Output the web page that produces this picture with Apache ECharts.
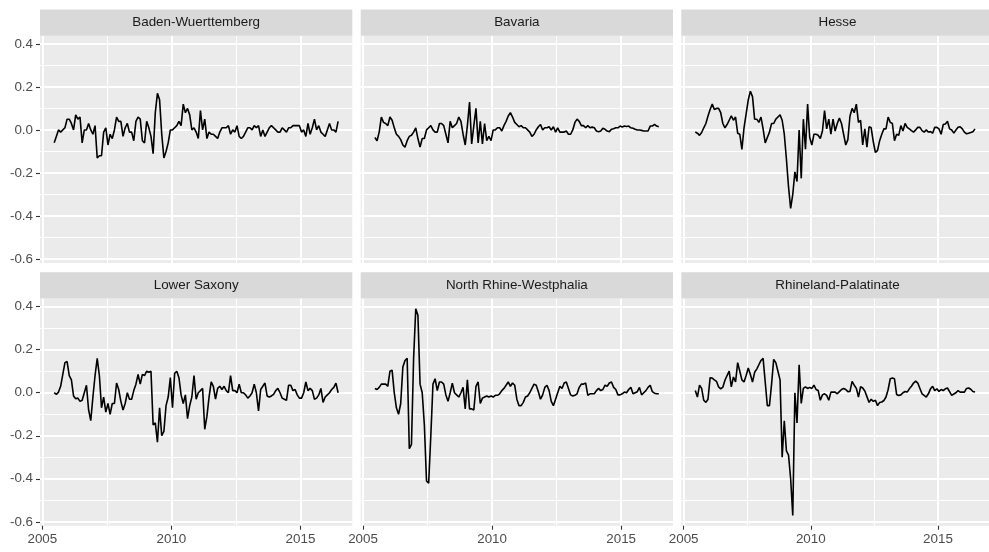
<!DOCTYPE html>
<html>
<head>
<meta charset="utf-8">
<script src="https://cdn.jsdelivr.net/npm/echarts@6/dist/echarts.min.js"></script>
<style>
html,body{margin:0;padding:0;background:#ffffff;}
#chart{width:989px;height:552px;}
</style>
</head>
<body>
<div id="chart"></div>
<script>
// ---- data ----
const panelNames = ["Baden-Wuerttemberg", "Bavaria", "Hesse", "Lower Saxony", "North Rhine-Westphalia", "Rhineland-Palatinate"];
const startYear = 2005;
const startMonth = 6; // first monthly observation: June 2005

const badenWuerttemberg = [
  -0.06, -0.03, 0.0, -0.01, 0.0, 0.01, 0.05, 0.05, 0.03, 0.0,
  0.07, 0.05, 0.06, -0.06, 0.0, 0.0, 0.03, 0.0, -0.02, 0.02,
  -0.13, -0.12, -0.12, -0.01, 0.01, -0.07, -0.02, -0.04, 0.0, 0.06,
  0.04, 0.04, -0.03, 0.01, 0.03, -0.01, -0.01, -0.05, 0.04, 0.06,
  0.05, -0.05, -0.06, 0.04, 0.01, -0.03, -0.11, 0.08, 0.17, 0.14,
  -0.02, -0.13, -0.10, -0.06, 0.0, 0.0, 0.01, 0.02, 0.04, 0.02,
  0.12, 0.08, 0.10, 0.07, 0.0, 0.01, -0.01, -0.04, 0.09, 0.0,
  0.05, -0.04, -0.01, -0.02, -0.02, -0.03, -0.04, -0.01, 0.01, 0.01,
  0.01, 0.02, -0.02, 0.0, -0.01, 0.02, -0.03, -0.04, -0.03, -0.01,
  0.01, 0.01, 0.0, 0.02, 0.01, 0.02, -0.03, 0.0, -0.03, -0.01,
  0.01, 0.02, 0.01, 0.0, -0.01, -0.01, 0.01, 0.0, -0.01, 0.01,
  0.01, 0.02, 0.02, 0.02, 0.02, -0.01, 0.0, -0.03, 0.03, -0.02,
  0.01, 0.05, 0.0, 0.02, -0.01, -0.02, -0.03, 0.0, 0.03, 0.0,
  0.0, -0.01, 0.04
];
const bavaria = [
  -0.035, -0.05, -0.01, 0.06, 0.035, 0.03, 0.02, 0.06, 0.045, 0.01,
  -0.02, -0.03, -0.045, -0.07, -0.08, -0.05, -0.03, -0.025, -0.01, 0.01,
  -0.04, -0.08, -0.04, -0.04, 0.0, 0.01, 0.02, 0.0, -0.01, -0.01,
  0.03, 0.03, 0.02, -0.02, -0.06, 0.04, 0.01, 0.02, 0.03, 0.06,
  0.04, -0.02, -0.07, 0.02, 0.13, -0.065, 0.02, 0.10, -0.06, 0.04,
  -0.065, 0.03, -0.05, -0.03, -0.05, 0.0, 0.0, 0.01, 0.01, -0.005,
  0.02, 0.04, 0.065, 0.08, 0.06, 0.035, 0.025, 0.015, 0.02, 0.01,
  0.01, 0.0, -0.01, -0.03, -0.02, 0.0, 0.015, 0.025, 0.0, 0.01,
  0.01, 0.015, 0.0, 0.015, -0.01, 0.01, -0.01, -0.01, -0.01, -0.005,
  -0.02, -0.02, 0.0, 0.035, 0.05, 0.04, 0.02, 0.02, 0.01, 0.02,
  0.01, 0.013, 0.01, -0.005, -0.008, -0.005, 0.008, 0.003, -0.005, -0.008,
  0.003, 0.006, 0.01, 0.01, 0.018, 0.014, 0.018, 0.016, 0.018, 0.01,
  0.008, 0.003, 0.0, 0.0, -0.002, -0.005, -0.005, -0.005, 0.018, 0.018,
  0.026, 0.018, 0.015
];
const hesse = [
  -0.01, -0.015, -0.025, -0.012, 0.01, 0.03, 0.065, 0.095, 0.12, 0.095,
  0.10, 0.10, 0.08, 0.03, 0.01, 0.025, 0.045, 0.065, 0.045, 0.06,
  -0.015, -0.02, -0.09, 0.01, 0.075, 0.14, 0.18, 0.155, 0.05, 0.05,
  0.035, 0.06, 0.005, -0.06, -0.035, -0.01, 0.03, 0.03, 0.05, 0.06,
  0.07, 0.045, -0.02, -0.135, -0.265, -0.365, -0.30, -0.195, -0.24, 0.0,
  -0.225, 0.05, -0.09, 0.12, -0.035, -0.07, -0.02, -0.02, -0.025, -0.04,
  -0.005, 0.09, 0.005, 0.05, -0.02, 0.05, -0.005, 0.03, 0.055, 0.03,
  -0.02, -0.07, -0.045, 0.065, 0.10, 0.08, 0.12, 0.035, 0.045, -0.07,
  0.005, -0.08, 0.015, 0.01, -0.055, -0.105, -0.095, -0.05, -0.02, 0.005,
  0.005, 0.06, 0.035, 0.03, -0.05, -0.02, -0.025, 0.02, -0.005, 0.03,
  0.012, 0.005, -0.003, -0.01, 0.0, 0.012, 0.012, -0.003, -0.01, 0.0,
  -0.01, -0.008, -0.015, 0.012, 0.012, 0.005, -0.02, 0.025, 0.028, 0.04,
  0.005, 0.0, -0.015, 0.0, 0.012, 0.015, 0.005, -0.01, -0.018, -0.015,
  -0.012, -0.008, 0.005
];
const lowerSaxony = [
  0.0, -0.008, 0.003, 0.03, 0.085, 0.14, 0.145, 0.08, 0.06, -0.015,
  -0.028, -0.025, -0.04, -0.035, 0.0, 0.035, -0.08, -0.13, -0.02, 0.08,
  0.16, 0.08, -0.07, -0.02, -0.09, -0.05, -0.1, -0.05, -0.05, 0.045,
  0.015, -0.04, -0.08, -0.05, 0.0, -0.03, -0.03, 0.01, 0.04, 0.085,
  0.04, 0.085, 0.08, 0.1, 0.095, 0.1, -0.15, -0.14, -0.23, -0.07,
  -0.2, -0.18, -0.06, -0.02, 0.07, -0.07, 0.09, 0.1, 0.07, -0.01,
  -0.05, -0.01, -0.12, -0.06, -0.02, 0.08, -0.03, 0.0, 0.01, 0.02,
  -0.17, -0.11, -0.02, 0.05, 0.03, -0.03, 0.02, 0.03, 0.015, 0.03,
  0.01, 0.0, 0.08, 0.01, 0.01, 0.0, 0.04, 0.0, 0.0, -0.01,
  -0.025, -0.015, 0.0, 0.04, 0.0, -0.085, 0.015, 0.03, 0.045, -0.015,
  -0.02, -0.015, -0.008, 0.01, 0.02, 0.0, -0.025, -0.03, -0.035, 0.035,
  0.035, 0.01, 0.015, -0.01, -0.025, -0.025, 0.0, 0.05, 0.01, 0.02,
  0.01, -0.03, -0.025, -0.01, 0.02, -0.045, -0.02, -0.01, 0.0, 0.015,
  0.025, 0.045, 0.0
];
const northRhineWestphalia = [
  0.02, 0.015, 0.025, 0.04, 0.04, 0.04, 0.03, 0.1, 0.105, 0.0,
  -0.07, -0.1, -0.05, 0.12, 0.15, 0.16, -0.26, -0.24, 0.16, 0.39,
  0.36, 0.04, 0.0, -0.15, -0.41, -0.42, -0.2, 0.04, 0.065, 0.01,
  0.05, 0.05, 0.04, -0.01, -0.04, 0.0, 0.045, 0.0, -0.01, -0.02,
  0.0, 0.025, -0.075, 0.06, -0.075, -0.075, -0.08, 0.03, 0.05, -0.05,
  -0.025, -0.02, -0.015, -0.02, -0.015, -0.02, -0.012, -0.012, -0.005, 0.01,
  0.02, 0.035, 0.05, 0.03, 0.045, 0.035, -0.03, -0.06, -0.06, -0.045,
  -0.02, -0.015, 0.0, 0.02, 0.04, 0.035, 0.005, -0.03, -0.01, 0.025,
  0.035, 0.01, -0.04, -0.06, -0.03, 0.0, 0.03, 0.02, 0.045, 0.05,
  0.02, -0.01, -0.015, -0.012, -0.005, 0.025, 0.04, 0.04, 0.045, -0.012,
  -0.005, -0.005, -0.005, 0.01, 0.02, 0.01, 0.015, 0.035, 0.03, 0.045,
  0.05, 0.025, 0.015, -0.01, -0.01, -0.005, 0.003, 0.0, 0.015, 0.025,
  -0.005, 0.0, 0.005, 0.025, -0.01, 0.0, 0.01, 0.025, 0.035, 0.005,
  -0.002, -0.005, -0.005
];
const rhinelandPalatinate = [
  0.01, -0.02, 0.035, 0.02, -0.035, -0.045, -0.03, 0.07, 0.068, 0.06,
  0.053, 0.027, 0.018, 0.026, 0.058, 0.08, 0.1, 0.027, 0.073, 0.05,
  0.14, 0.1, 0.06, 0.05, 0.08, 0.115, 0.085, 0.05, 0.095, 0.11,
  0.13, 0.15, 0.16, 0.05, -0.06, -0.06, 0.04, 0.155, 0.14, 0.1,
  0.06, -0.3, -0.13, -0.27, -0.29, -0.4, -0.57, 0.0, -0.14, 0.13,
  -0.05, 0.02, 0.027, 0.02, 0.025, 0.02, 0.035, 0.015, 0.01, -0.035,
  -0.01, -0.005, -0.012, -0.035, 0.003, 0.003, 0.003, -0.005, 0.005, 0.015,
  0.02, 0.015, 0.005, 0.006, 0.053, 0.035, 0.02, -0.02, 0.028, 0.022,
  0.008, -0.018, -0.045, -0.03, -0.04, -0.035, -0.06, -0.045, -0.043, -0.036,
  -0.02, 0.015, 0.065, 0.068, 0.065, -0.008, -0.013, -0.01, 0.0, 0.006,
  0.003, 0.018, 0.03, 0.045, 0.054, 0.045, 0.02, -0.005, -0.012, -0.02,
  -0.005, 0.018, 0.03, 0.01, 0.018, 0.006, 0.015, 0.01, 0.018, 0.022,
  0.005, -0.012, -0.006, 0.0, 0.01, 0.003, 0.003, 0.003, 0.02, 0.022,
  0.016, 0.006, 0.003
];

const yTicks = [-0.6, -0.4, -0.2, 0.0, 0.2, 0.4];
const yMinorTicks = [-0.5, -0.3, -0.1, 0.1, 0.3];
const xTicks = [2005, 2010, 2015];
const xMinorTicks = [2007.5, 2012.5];

// ---- build ----
const panelSeries = [badenWuerttemberg, bavaria, hesse, lowerSaxony, northRhineWestphalia, rhinelandPalatinate];
// monthly observations plotted at mid-month (decimal years)
const xValues = badenWuerttemberg.map((_, i) => startYear + (startMonth - 1 + i + 0.5) / 12);

// ggplot-style 5% expansion of the shared (fixed) scales
const allVals = [].concat(...panelSeries);
const vMin = Math.min(...allVals), vMax = Math.max(...allVals);
const yMin = vMin - 0.05 * (vMax - vMin), yMax = vMax + 0.05 * (vMax - vMin);
const tMin = xValues[0], tMax = xValues[xValues.length - 1];
const xMin = tMin - 0.05 * (tMax - tMin), xMax = tMax + 0.05 * (tMax - tMin);

// layout
const panelLeft = [40, 360.7, 681.3];
const panelW = 312.3;
const rowTop = [35.7, 298.5];
const panelH = 227.2;
const stripH = 26.3;

const FONT = '"Liberation Sans", Arial, Helvetica, sans-serif';
const axisText = { fontFamily: FONT, fontSize: 13.4, color: '#4D4D4D' };

const grids = [], xAxes = [], yAxes = [], series = [], graphics = [];

panelNames.forEach((name, k) => {
  const r = Math.floor(k / 3), c = k % 3;
  grids.push({
    left: panelLeft[c], top: rowTop[r], width: panelW, height: panelH,
    show: true, backgroundColor: '#EBEBEB', borderWidth: 0, containLabel: false
  });
  // major x
  xAxes.push({
    type: 'value', gridIndex: k, min: xMin, max: xMax, position: 'bottom',
    axisLine: { show: false, onZero: false },
    axisTick: { show: r === 1, customValues: xTicks, length: 4, lineStyle: { color: '#333333', width: 1.1 } },
    axisLabel: Object.assign({ show: r === 1, customValues: xTicks, margin: 7.5, formatter: v => String(Math.round(v)) }, axisText),
    splitLine: { show: true, lineStyle: { color: '#FFFFFF', width: 2 } },
    minorSplitLine: { show: false }
  });
  // minor x
  xAxes.push({
    type: 'value', gridIndex: k, min: xMin, max: xMax, position: 'top',
    axisLine: { show: false, onZero: false },
    axisTick: { show: false, customValues: xMinorTicks },
    axisLabel: { show: false, customValues: xMinorTicks },
    splitLine: { show: true, lineStyle: { color: '#FFFFFF', width: 1 } }
  });
  // major y
  yAxes.push({
    type: 'value', gridIndex: k, min: yMin, max: yMax, position: 'left',
    axisLine: { show: false, onZero: false },
    axisTick: { show: c === 0, customValues: yTicks, length: 4, lineStyle: { color: '#333333', width: 1.1 } },
    axisLabel: Object.assign({ show: c === 0, customValues: yTicks, margin: 7, formatter: v => (Math.abs(v) < 1e-9 ? 0 : v).toFixed(1) }, axisText),
    splitLine: { show: true, lineStyle: { color: '#FFFFFF', width: 2 } }
  });
  // minor y
  yAxes.push({
    type: 'value', gridIndex: k, min: yMin, max: yMax, position: 'right',
    axisLine: { show: false, onZero: false },
    axisTick: { show: false, customValues: yMinorTicks },
    axisLabel: { show: false, customValues: yMinorTicks },
    splitLine: { show: true, lineStyle: { color: '#FFFFFF', width: 1 } }
  });
  series.push({
    type: 'line', name: name,
    xAxisIndex: 2 * k, yAxisIndex: 2 * k,
    data: xValues.map((x, i) => [x, panelSeries[k][i]]),
    showSymbol: false, symbol: 'none', smooth: false,
    lineStyle: { color: '#000000', width: 1.6 },
    itemStyle: { color: '#000000' },
    clip: true, z: 5, silent: true
  });
  // facet strip
  graphics.push({
    type: 'rect', silent: true, z: 1,
    shape: { x: panelLeft[c], y: rowTop[r] - stripH, width: panelW, height: stripH },
    style: { fill: '#D9D9D9' }
  });
  graphics.push({
    type: 'text', silent: true, z: 2,
    x: panelLeft[c] + panelW / 2, y: rowTop[r] - stripH / 2,
    style: {
      text: name, fill: '#1A1A1A', font: '13.4px ' + FONT,
      align: 'center', verticalAlign: 'middle',
      textAlign: 'center', textVerticalAlign: 'middle'
    }
  });
});

const chart = echarts.init(document.getElementById('chart'), null, { renderer: 'canvas' });
chart.setOption({
  animation: false,
  backgroundColor: '#FFFFFF',
  grid: grids,
  xAxis: xAxes,
  yAxis: yAxes,
  series: series,
  graphic: graphics
});
</script>
</body>
</html>
